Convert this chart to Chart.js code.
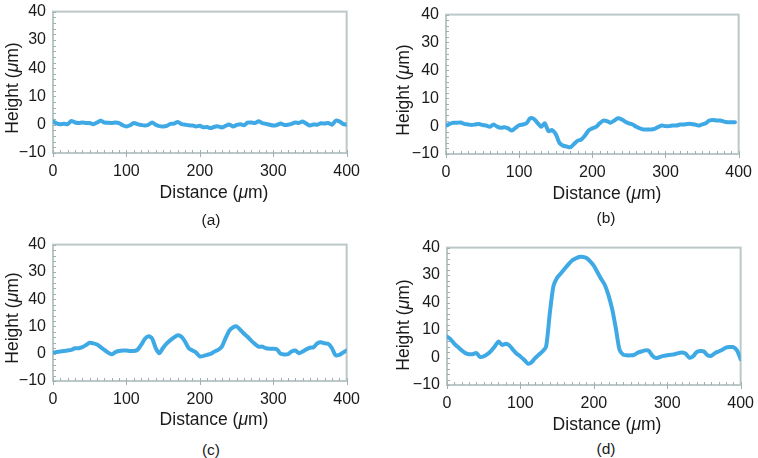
<!DOCTYPE html>
<html>
<head>
<meta charset="utf-8">
<script src="https://cdn.jsdelivr.net/npm/chart.js@4"></script>
<style>
  html, body { margin: 0; padding: 0; background: #fff; }
  body { width: 758px; height: 458px; position: relative; overflow: hidden;
         font-family: "Liberation Sans", Arial, sans-serif; color: #1a1a1a; }
  canvas { position: absolute; }
  .xt, .yt, .lbl { position: absolute; white-space: nowrap; font-size: 17.5px; line-height: 1; }
  .xt { transform: translate(-50%, -50%); }
  .yt { transform: translate(-50%, -50%) rotate(-90deg); }
  .lbl { font-size: 15.5px; transform: translate(-50%, -50%); }
</style>
</head>
<body>

<canvas id="pa"></canvas>
<canvas id="pb"></canvas>
<canvas id="pc"></canvas>
<canvas id="pd"></canvas>

<div class="yt" style="left:13px; top:88px;">Height (<i>μ</i>m)</div>
<div class="yt" style="left:404px; top:90px;">Height (<i>μ</i>m)</div>
<div class="yt" style="left:13px; top:318px;">Height (<i>μ</i>m)</div>
<div class="yt" style="left:404px; top:325px;">Height (<i>μ</i>m)</div>

<div class="xt" style="left:214px; top:193px;">Distance (<i>μ</i>m)</div>
<div class="xt" style="left:607px; top:194px;">Distance (<i>μ</i>m)</div>
<div class="xt" style="left:214px; top:420px;">Distance (<i>μ</i>m)</div>
<div class="xt" style="left:607px; top:425px;">Distance (<i>μ</i>m)</div>

<div class="lbl" style="left:211px; top:220px;">(a)</div>
<div class="lbl" style="left:606px; top:218px;">(b)</div>
<div class="lbl" style="left:211px; top:450px;">(c)</div>
<div class="lbl" style="left:606px; top:449px;">(d)</div>

<script>
/* Surface height profiles, four panels */

const distance = [0,5,10,15,20,25,30,35,40,45,50,55,60,65,70,75,80,85,90,95,
  100,105,110,115,120,125,130,135,140,145,150,155,160,165,170,175,180,185,190,195,
  200,205,210,215,220,225,230,235,240,245,250,255,260,265,270,275,280,285,290,295,
  300,305,310,315,320,325,330,335,340,345,350,355,360,365,370,375,380,385,390,395,400];

const xTicks      = [0, 100, 200, 300, 400];
const yTickValues = [-10, 0, 10, 20, 30, 40];
// the source figure labels the 20 gridline as "40"; kept as printed
const yTickLabels = ['−10', '0', '10', '40', '30', '40'];

const heightA = [1.2,0.5,0.2,0.3,0.2,1.3,0.8,0.6,0.8,0.6,0.6,0.2,0.8,1.4,0.8,0.7,0.6,0.8,0.6,-0.2,
  -0.6,-0.2,0.6,0.2,-0.1,-0.3,0.0,0.8,0.0,-0.5,-0.6,-0.4,0.3,0.4,1.0,0.2,0.0,-0.2,-0.3,-0.6,
  -0.4,-0.9,-0.8,-1.2,-0.7,-0.6,-1.0,-0.4,0.1,-0.6,-0.1,0.2,-0.2,0.7,0.8,0.6,1.2,0.6,0.3,0.0,
  -0.3,-0.1,0.4,-0.1,0.0,0.3,0.8,0.6,1.1,0.4,-0.3,0.1,0.0,0.5,0.4,0.6,0.0,1.4,1.2,0.3,0.0];

const heightB = [0.2,0.8,1.2,1.2,1.3,0.8,0.6,0.4,0.6,0.8,0.4,0.2,-0.2,0.6,-0.2,-0.6,-0.4,-0.8,-1.6,-0.6,
  0.3,0.6,1.0,2.8,2.6,1.2,-0.2,1.0,-1.8,-1.4,-2.8,-6.0,-7.0,-7.3,-7.6,-6.4,-5.2,-4.8,-3.4,-1.5,
  -0.8,-0.3,1.0,2.0,1.8,1.2,2.0,2.8,2.4,1.6,1.0,0.6,-0.2,-0.8,-1.2,-1.2,-1.2,-1.0,-0.3,0.2,
  0.0,0.0,0.2,0.2,0.6,0.6,0.8,0.8,0.6,0.2,0.6,1.0,2.0,2.2,2.0,2.0,1.6,1.4,1.4,1.4];

const heightC = [0.4,0.6,0.8,1.0,1.2,1.4,2.0,2.0,2.4,3.2,4.0,3.8,3.4,2.4,1.4,0.4,-0.2,0.6,1.0,1.2,
  1.2,1.0,1.0,1.4,3.2,5.4,6.4,5.6,2.0,0.2,2.2,3.8,5.0,6.0,6.8,6.2,4.4,2.0,1.2,0.4,
  -1.0,-0.8,-0.4,0.0,0.8,1.4,2.6,5.6,8.4,9.6,10.0,8.8,7.4,6.2,4.8,3.6,2.6,2.6,2.0,1.8,
  1.8,1.6,0.0,-0.3,-0.2,0.8,1.2,0.2,0.8,1.6,2.2,2.4,3.8,4.2,3.8,3.6,2.0,-0.6,-0.4,0.4,1.2];

const heightD = [7.6,6.6,5.0,3.8,2.6,1.6,1.2,1.2,1.6,0.2,0.4,1.2,2.4,4.0,5.8,4.6,5.0,4.4,2.8,1.4,
  0.4,-0.8,-2.2,-1.8,-0.2,1.0,2.2,4.0,16.0,26.0,29.0,30.6,32.2,33.8,35.2,36.0,36.6,36.6,36.2,35.0,
  33.4,31.0,28.6,26.4,22.6,17.6,10.6,2.8,1.0,0.8,0.8,1.0,1.8,2.2,2.6,2.4,0.6,-0.2,0.2,0.6,
  0.8,1.0,1.2,1.6,1.8,1.4,0.0,0.4,2.0,2.4,2.2,0.8,0.6,1.6,2.2,2.8,3.6,3.8,3.8,2.6,-0.6];

const LINE_COLOR = '#3fa9e5';
const BOX_COLOR  = '#bcc8c8';
const TICK_COLOR = '#9fb0b0';

// plot box and little inward ticks, drawn from the chart's own scales
const frame = {
  id: 'frame',
  beforeDatasetsDraw(chart) {
    const { ctx, chartArea: a, scales } = chart;
    ctx.save();
    ctx.strokeStyle = BOX_COLOR;
    ctx.lineWidth = 2;
    ctx.strokeRect(a.left, a.top, a.right - a.left, a.bottom - a.top);
    ctx.strokeStyle = TICK_COLOR;
    ctx.lineWidth = 1;
    ctx.beginPath();
    for (let v = 0; v <= 400; v += 10) {
      const x = Math.round(scales.x.getPixelForValue(v)) + 0.5;
      const major = v % 100 === 0;
      ctx.moveTo(x, a.bottom + (major ? 4 : 0));
      ctx.lineTo(x, a.bottom - 3);
    }
    for (let v = -10; v <= 40; v += 2) {
      const y = Math.round(scales.y.getPixelForValue(v)) + 0.5;
      ctx.moveTo(a.left, y);
      ctx.lineTo(a.left + 3, y);
    }
    ctx.stroke();
    ctx.restore();
  }
};

const Y_W = 60, X_H = 40, PAD_T = 14, PAD_R = 16;
const TICK_FONT = { family: 'Liberation Sans', size: 16 };

function makePanel(id, xs, ys, box) {
  const canvas = document.getElementById(id);
  const left = box.l - Y_W, top = box.t - PAD_T;
  canvas.width  = box.r - left + PAD_R;
  canvas.height = box.b - top + X_H;
  canvas.style.left = left + 'px';
  canvas.style.top  = top + 'px';

  new Chart(canvas, {
    type: 'line',
    data: {
      datasets: [{
        data: xs.map((x, i) => ({ x, y: ys[i] })),
        borderColor: LINE_COLOR,
        borderWidth: 4,
        pointRadius: 0,
        tension: 0.25,
        borderCapStyle: 'round',
        borderJoinStyle: 'round',
      }]
    },
    options: {
      responsive: false,
      animation: false,
      layout: { padding: { top: PAD_T, right: PAD_R, left: 0, bottom: 0 } },
      plugins: { legend: { display: false }, tooltip: { enabled: false } },
      scales: {
        x: {
          type: 'linear', min: 0, max: 400,
          afterBuildTicks: s => { s.ticks = xTicks.map(v => ({ value: v })); },
          afterFit: s => { s.height = X_H; },
          grid: { display: false, drawTicks: false },
          border: { display: false },
          ticks: { color: '#1a1a1a', padding: 9, maxRotation: 0, font: TICK_FONT }
        },
        y: {
          type: 'linear', min: -10, max: 40,
          afterBuildTicks: s => { s.ticks = yTickValues.map(v => ({ value: v })); },
          afterTickToLabelConversion: s => {
            s.ticks.forEach(t => { t.label = yTickLabels[yTickValues.indexOf(t.value)]; });
          },
          afterFit: s => { s.width = Y_W; },
          grid: { display: false, drawTicks: false },
          border: { display: false },
          ticks: { color: '#1a1a1a', padding: 7, font: TICK_FONT }
        }
      }
    },
    plugins: [frame]
  });
}

// plot boxes in page pixels
makePanel('pa', distance, heightA, { l: 53,  t: 9,   r: 353, b: 153 });
makePanel('pb', distance.slice(0, heightB.length), heightB, { l: 446, t: 12, r: 745, b: 154 });
makePanel('pc', distance, heightC, { l: 53,  t: 242, r: 353, b: 381 });
makePanel('pd', distance, heightD, { l: 447, t: 245, r: 747, b: 385 });
</script>
</body>
</html>
